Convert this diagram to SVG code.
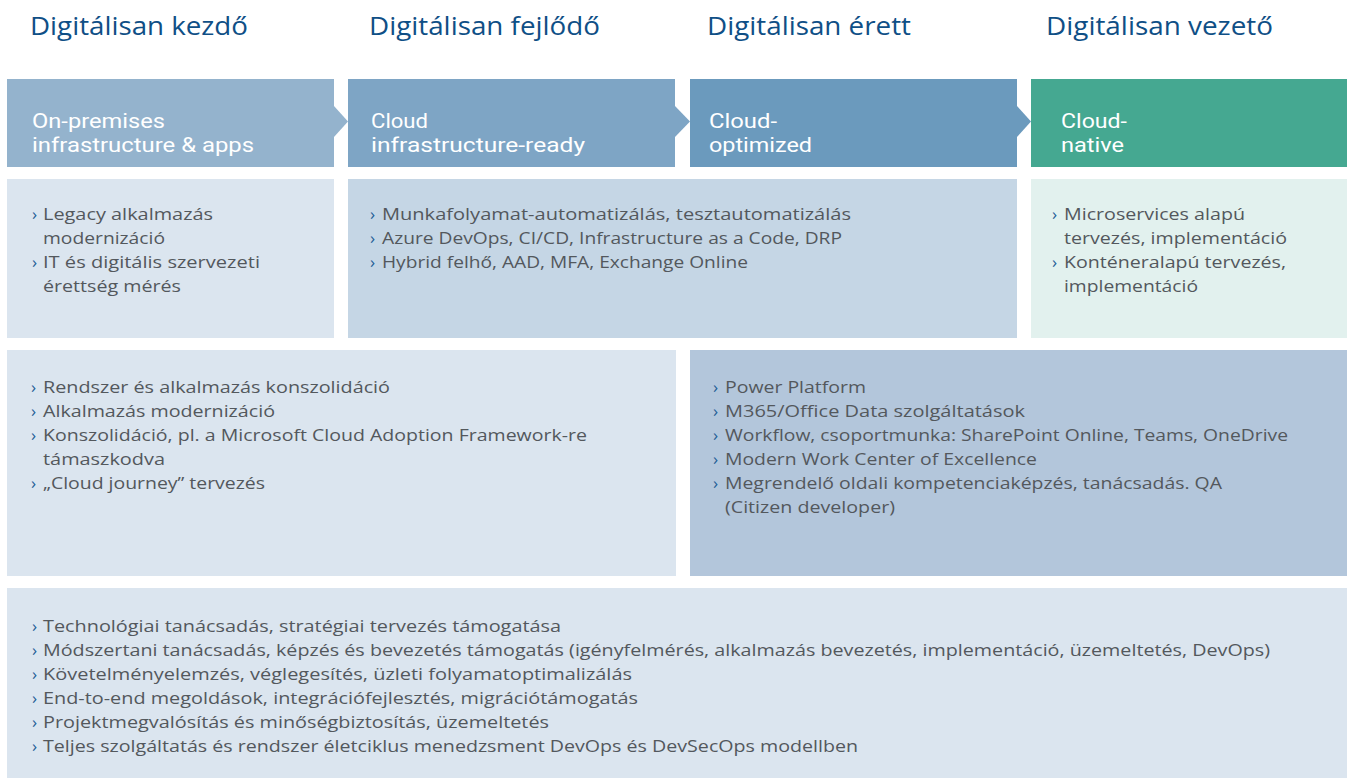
<svg xmlns="http://www.w3.org/2000/svg" width="1347" height="778" viewBox="0 0 1347 778">
<style>
text{font-family:"Open Sans","Noto Sans","DejaVu Sans",sans-serif}
.h{font-size:25px;fill:#0f4f86}
.bt{font-family:Roboto,"Liberation Sans",sans-serif;font-size:20px;fill:#ffffff}
.t{font-size:17px;fill:#53585d}
.b{font-size:17px;fill:#1d5e96}
</style>
<rect width="1347" height="778" fill="#ffffff"/>
<g id="headers">
<text class="h" x="30" y="35" textLength="218" lengthAdjust="spacingAndGlyphs">Digitálisan kezdő</text>
<text class="h" x="369" y="35" textLength="231" lengthAdjust="spacingAndGlyphs">Digitálisan fejlődő</text>
<text class="h" x="707" y="35" textLength="204" lengthAdjust="spacingAndGlyphs">Digitálisan érett</text>
<text class="h" x="1046" y="35" textLength="227" lengthAdjust="spacingAndGlyphs">Digitálisan vezető</text>
</g>
<g id="stage1">
<rect x="7" y="79" width="327" height="88" fill="#94b3cd"/>
<text class="bt" x="32" y="128" textLength="133" lengthAdjust="spacingAndGlyphs">On-premises</text>
<text class="bt" x="32" y="152" textLength="222" lengthAdjust="spacingAndGlyphs">infrastructure &amp; apps</text>
</g>
<g id="stage2">
<rect x="348" y="79" width="327" height="88" fill="#7ea5c5"/>
<text class="bt" x="371" y="128" textLength="57" lengthAdjust="spacingAndGlyphs">Cloud</text>
<text class="bt" x="371" y="152" textLength="214" lengthAdjust="spacingAndGlyphs">infrastructure-ready</text>
</g>
<g id="stage3">
<rect x="690" y="79" width="327" height="88" fill="#6b9abd"/>
<text class="bt" x="709" y="128" textLength="68" lengthAdjust="spacingAndGlyphs">Cloud-</text>
<text class="bt" x="709" y="152" textLength="103" lengthAdjust="spacingAndGlyphs">optimized</text>
</g>
<g id="stage4">
<rect x="1031" y="79" width="316" height="88" fill="#45a891"/>
<text class="bt" x="1061" y="128" textLength="66" lengthAdjust="spacingAndGlyphs">Cloud-</text>
<text class="bt" x="1061" y="152" textLength="63" lengthAdjust="spacingAndGlyphs">native</text>
</g>
<g id="connectors">
<polygon points="334,106 348,121.5 334,137" fill="#94b3cd"/>
<polygon points="675,106 690,121.5 675,137" fill="#7ea5c5"/>
<polygon points="1017,106 1031,121.5 1017,137" fill="#6b9abd"/>
</g>
<g id="box-r2-1">
<rect x="7" y="179" width="327" height="159" fill="#dbe5ef"/>
<text class="b" x="32" y="220">›</text>
<text class="t" x="43" y="220" textLength="170" lengthAdjust="spacingAndGlyphs">Legacy alkalmazás</text>
<text class="t" x="43" y="244" textLength="122" lengthAdjust="spacingAndGlyphs">modernizáció</text>
<text class="b" x="32" y="268">›</text>
<text class="t" x="43" y="268" textLength="217" lengthAdjust="spacingAndGlyphs">IT és digitális szervezeti</text>
<text class="t" x="43" y="292" textLength="138" lengthAdjust="spacingAndGlyphs">érettség mérés</text>
</g>
<g id="box-r2-2">
<rect x="348" y="179" width="669" height="159" fill="#c5d6e5"/>
<text class="b" x="370" y="220">›</text>
<text class="t" x="382" y="220" textLength="469" lengthAdjust="spacingAndGlyphs">Munkafolyamat-automatizálás, tesztautomatizálás</text>
<text class="b" x="370" y="244">›</text>
<text class="t" x="382" y="244" textLength="460" lengthAdjust="spacingAndGlyphs">Azure DevOps, CI/CD, Infrastructure as a Code, DRP</text>
<text class="b" x="370" y="268">›</text>
<text class="t" x="382" y="268" textLength="366" lengthAdjust="spacingAndGlyphs">Hybrid felhő, AAD, MFA, Exchange Online</text>
</g>
<g id="box-r2-3">
<rect x="1031" y="179" width="316" height="159" fill="#e2f1ee"/>
<text class="b" x="1052" y="220">›</text>
<text class="t" x="1064" y="220" textLength="181" lengthAdjust="spacingAndGlyphs">Microservices alapú</text>
<text class="t" x="1064" y="244" textLength="223" lengthAdjust="spacingAndGlyphs">tervezés, implementáció</text>
<text class="b" x="1052" y="268">›</text>
<text class="t" x="1064" y="268" textLength="222" lengthAdjust="spacingAndGlyphs">Konténeralapú tervezés,</text>
<text class="t" x="1064" y="292" textLength="134" lengthAdjust="spacingAndGlyphs">implementáció</text>
</g>
<g id="box-r3-1">
<rect x="7" y="350" width="669" height="226" fill="#dbe5ef"/>
<text class="b" x="31" y="393">›</text>
<text class="t" x="43" y="393" textLength="347" lengthAdjust="spacingAndGlyphs">Rendszer és alkalmazás konszolidáció</text>
<text class="b" x="31" y="417">›</text>
<text class="t" x="43" y="417" textLength="232" lengthAdjust="spacingAndGlyphs">Alkalmazás modernizáció</text>
<text class="b" x="31" y="441">›</text>
<text class="t" x="43" y="441" textLength="544" lengthAdjust="spacingAndGlyphs">Konszolidáció, pl. a Microsoft Cloud Adoption Framework-re</text>
<text class="t" x="43" y="465" textLength="122" lengthAdjust="spacingAndGlyphs">támaszkodva</text>
<text class="b" x="31" y="489">›</text>
<text class="t" x="43" y="489" textLength="222" lengthAdjust="spacingAndGlyphs">„Cloud journey” tervezés</text>
</g>
<g id="box-r3-2">
<rect x="690" y="350" width="657" height="226" fill="#b3c6db"/>
<text class="b" x="713" y="393">›</text>
<text class="t" x="725" y="393" textLength="141" lengthAdjust="spacingAndGlyphs">Power Platform</text>
<text class="b" x="713" y="417">›</text>
<text class="t" x="725" y="417" textLength="300" lengthAdjust="spacingAndGlyphs">M365/Office Data szolgáltatások</text>
<text class="b" x="713" y="441">›</text>
<text class="t" x="725" y="441" textLength="563" lengthAdjust="spacingAndGlyphs">Workflow, csoportmunka: SharePoint Online, Teams, OneDrive</text>
<text class="b" x="713" y="465">›</text>
<text class="t" x="725" y="465" textLength="312" lengthAdjust="spacingAndGlyphs">Modern Work Center of Excellence</text>
<text class="b" x="713" y="489">›</text>
<text class="t" x="725" y="489" textLength="497" lengthAdjust="spacingAndGlyphs">Megrendelő oldali kompetenciaképzés, tanácsadás. QA</text>
<text class="t" x="725" y="513" textLength="170" lengthAdjust="spacingAndGlyphs">(Citizen developer)</text>
</g>
<g id="box-r4">
<rect x="7" y="588" width="1340" height="190" fill="#dbe5ef"/>
<text class="b" x="32" y="632">›</text>
<text class="t" x="43" y="632" textLength="518" lengthAdjust="spacingAndGlyphs">Technológiai tanácsadás, stratégiai tervezés támogatása</text>
<text class="b" x="32" y="656">›</text>
<text class="t" x="43" y="656" textLength="1227" lengthAdjust="spacingAndGlyphs">Módszertani tanácsadás, képzés és bevezetés támogatás (igényfelmérés, alkalmazás bevezetés, implementáció, üzemeltetés, DevOps)</text>
<text class="b" x="32" y="680">›</text>
<text class="t" x="43" y="680" textLength="589" lengthAdjust="spacingAndGlyphs">Követelményelemzés, véglegesítés, üzleti folyamatoptimalizálás</text>
<text class="b" x="32" y="704">›</text>
<text class="t" x="43" y="704" textLength="595" lengthAdjust="spacingAndGlyphs">End-to-end megoldások, integrációfejlesztés, migrációtámogatás</text>
<text class="b" x="32" y="728">›</text>
<text class="t" x="43" y="728" textLength="506" lengthAdjust="spacingAndGlyphs">Projektmegvalósítás és minőségbiztosítás, üzemeltetés</text>
<text class="b" x="32" y="752">›</text>
<text class="t" x="43" y="752" textLength="815" lengthAdjust="spacingAndGlyphs">Teljes szolgáltatás és rendszer életciklus menedzsment DevOps és DevSecOps modellben</text>
</g>
</svg>
